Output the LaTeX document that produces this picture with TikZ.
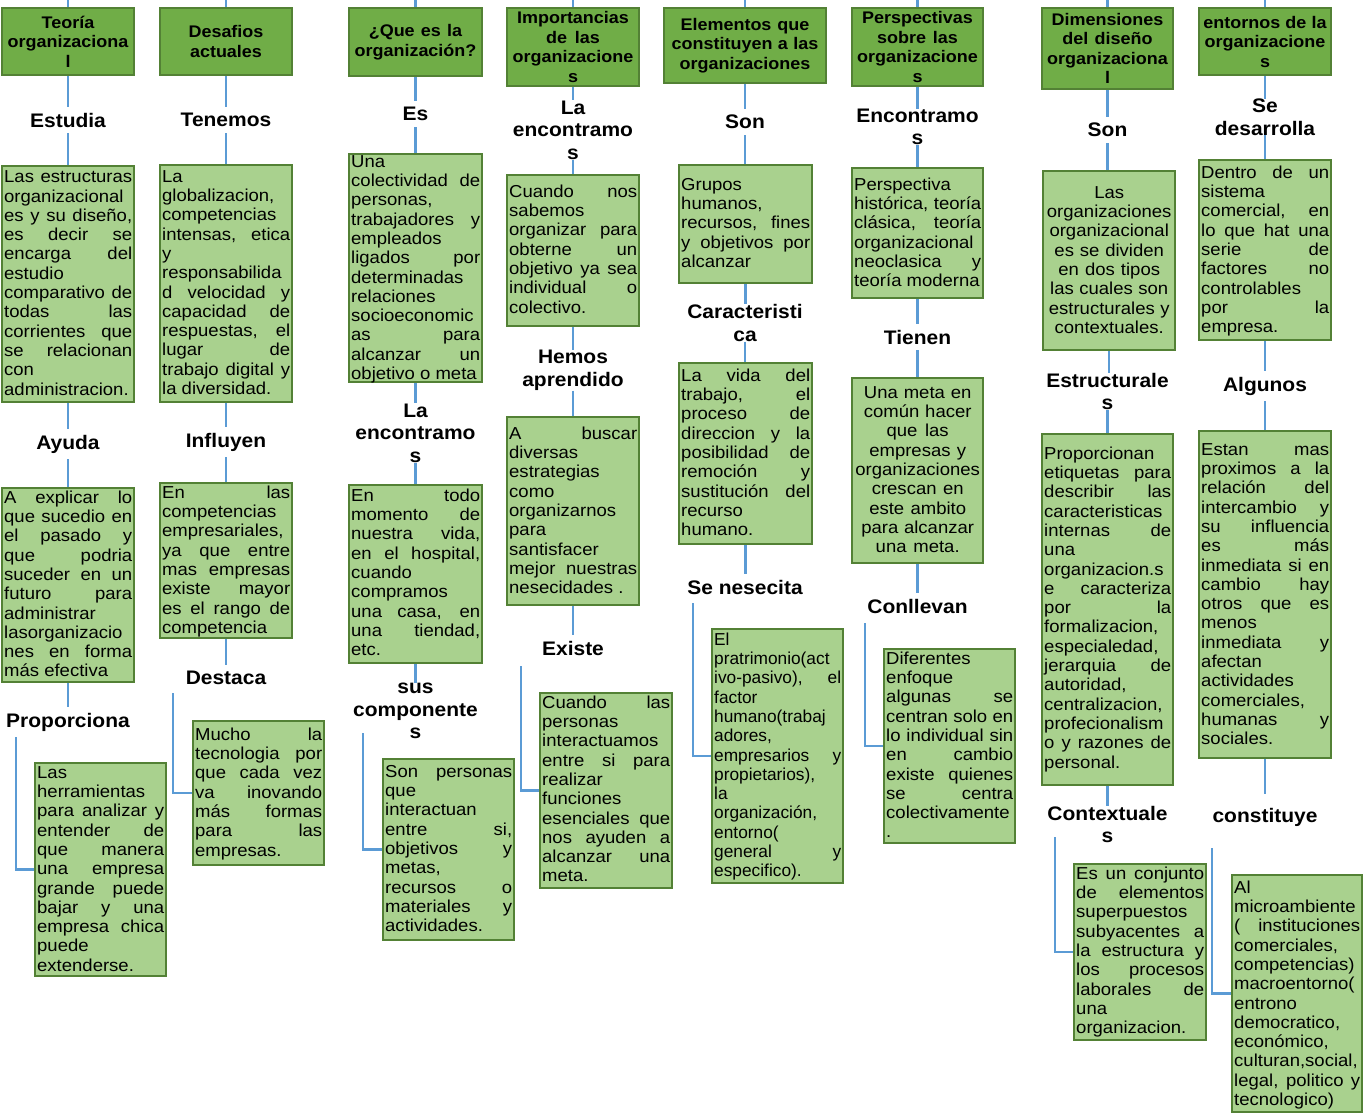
\documentclass[tikz,border=0pt]{standalone}
\usepackage{fontspec}
\setmainfont{Liberation Sans}[FakeStretch=1.07]
\newfontfamily\plainsans{Liberation Sans}
\usetikzlibrary{backgrounds}
\definecolor{tgreen}{HTML}{70AD47}
\definecolor{lgreen}{HTML}{A9D18E}
\definecolor{dgreen}{HTML}{538135}
\definecolor{lblue}{HTML}{5B9BD5}
\newcommand\jline[1]{\leavevmode\hbox to \hsize{\spaceskip=\fontdimen2\font plus 1fil\relax#1}}
\newcommand\natsp{\spaceskip=0pt\xspaceskip=0pt\relax}
\tikzset{
 titlebox/.style={draw=dgreen, fill=tgreen, line width=2.5pt, inner sep=0pt, align=center, font=\fontsize{16.8}{19.5}\selectfont\bfseries},
 bodybox/.style={draw=dgreen, fill=lgreen, line width=2.5pt, inner sep=0pt},
 bodytext/.style={inner sep=0pt, anchor=north west, align=left, font=\fontsize{17.3}{19.3}\selectfont},
 lab/.style={align=center, inner xsep=2pt, inner ysep=6pt, font=\fontsize{19.6}{22.5}\selectfont\bfseries},
 labthru/.style={align=center, inner sep=0pt, font=\fontsize{19.6}{22.5}\selectfont\bfseries},
 conn/.style={draw=lblue, line width=2.5pt},
}
\newcommand\ttl[6]{%
 \pgfmathsetmacro\bxw{#4-#2}\pgfmathsetmacro\bxh{#5-#3}%
 \pgfmathsetmacro\bxcx{(#2+#4)/2}\pgfmathsetmacro\bxcy{(#3+#5)/2}%
 \pgfmathsetmacro\bxtw{#4-#2-6}%
 \node[titlebox, minimum width=\bxw pt, minimum height=\bxh pt, text width=\bxtw pt] (#1) at (\bxcx,\bxcy) {\natsp#6};}
\newcommand\bx[8][]{%
 \pgfmathsetmacro\bxw{#5-#3}\pgfmathsetmacro\bxh{#6-#4}%
 \pgfmathsetmacro\bxcx{(#3+#5)/2}\pgfmathsetmacro\bxcy{(#4+#6)/2}%
 \pgfmathsetmacro\bxtw{#5-#3-4}\pgfmathsetmacro\bxtx{#3+2}\pgfmathsetmacro\bxty{#7-8.5}%
 \node[bodybox, minimum width=\bxw pt, minimum height=\bxh pt] (#2) at (\bxcx,\bxcy) {};
 \node[bodytext, text width=\bxtw pt, #1] (#2t) at (\bxtx,\bxty) {\natsp\strut#8};}
\newcommand\vl[2]{\draw[conn] (#1.south) -- (#1.south |- #2.north);}
\begin{document}
\begin{tikzpicture}[x=1pt,y=-1pt]
\useasboundingbox (0,0) rectangle (1363,1114);
% ---------- column 1
\coordinate (top1) at (68,0);
\ttl{t1}{2}{8}{134}{75}{Teoría\\organizaciona\\l}
\node[lab] (l1a) at (68,120) {Estudia};
\bx{b1a}{2}{166}{134}{402}{177.5}{\jline{Las estructuras}\\ organizacional\\ \jline{es y su diseño,}\\ \jline{es decir se}\\ \jline{encarga del}\\ estudio\\ \jline{comparativo de}\\ \jline{todas las}\\ \jline{corrientes que}\\ \jline{se relacionan}\\ con\\ administracion.}
\node[lab] (l1b) at (68,444) {Ayuda};
\bx{b1b}{2}{488}{134}{682}{498}{\jline{A explicar lo}\\ \jline{que sucedio en}\\ \jline{el pasado y}\\ \jline{que podria}\\ \jline{suceder en un}\\ \jline{futuro para}\\ administrar\\ lasorganizacio\\ \jline{nes en forma}\\ más efectiva}
\node[lab] (l1c) at (68,722) {Proporciona};
\coordinate (e1) at (16,737);
\bx{b1c}{35}{763}{166}{976}{773}{Las\\ herramientas\\ \jline{para analizar y}\\ \jline{entender de}\\ \jline{que manera}\\ \jline{una empresa}\\ \jline{grande puede}\\ \jline{bajar y una}\\ \jline{empresa chica}\\ puede\\ extenderse.}
% ---------- column 2
\coordinate (top2) at (226,0);
\ttl{t2}{160}{8}{292}{75}{Desafios\\actuales}
\node[lab] (l2a) at (226,120) {Tenemos};
\bx{b2a}{160}{165}{292}{402}{177}{La\\ globalizacion,\\ competencias\\ \jline{intensas, etica}\\ y\\ responsabilida\\ \jline{d velocidad y}\\ \jline{capacidad de}\\ \jline{respuestas, el}\\ \jline{lugar de}\\ \jline{trabajo digital y}\\ la diversidad.}
\node[lab] (l2b) at (226,442) {Influyen};
\bx{b2b}{160}{483}{292}{638}{493}{\jline{En las}\\ competencias\\ empresariales,\\ \jline{ya que entre}\\ \jline{mas empresas}\\ \jline{existe mayor}\\ \jline{es el rango de}\\ competencia}
\node[lab] (l2c) at (226,678) {Destaca};
\coordinate (e2) at (173,693);
\bx{b2c}{193}{721}{324}{865}{735}{\jline{Mucho la}\\ \jline{tecnologia por}\\ \jline{que cada vez}\\ \jline{va inovando}\\ \jline{más formas}\\ \jline{para las}\\ empresas.}
% ---------- column 3
\coordinate (top3) at (415.5,0);
\ttl{t3}{349}{8}{482}{76}{¿Que es la\\organización?}
\node[lab] (l3a) at (415.5,114) {Es};
\bx{b3a}{349}{154}{482}{382}{162}{Una\\ \jline{colectividad de}\\ personas,\\ \jline{trabajadores y}\\ empleados\\ \jline{ligados por}\\ determinadas\\ relaciones\\ socioeconomic\\ \jline{as para}\\ \jline{alcanzar un}\\ objetivo o meta}
\node[labthru] (l3b) at (415.5,433) {La\\encontramo\\s};
\bx{b3b}{349}{485}{482}{663}{496}{\jline{En todo}\\ \jline{momento de}\\ \jline{nuestra vida,}\\ \jline{en el hospital,}\\ cuando\\ compramos\\ \jline{una casa, en}\\ \jline{una tiendad,}\\ etc.}
\node[labthru] (l3c) at (415.5,711) {sus\\componente\\s};
\coordinate (e3) at (363,733);
\bx{b3c}{383}{759}{514}{940}{772}{\jline{Son personas}\\ que\\ interactuan\\ \jline{entre si,}\\ \jline{objetivos y}\\ metas,\\ \jline{recursos o}\\ \jline{materiales y}\\ actividades.}
% ---------- column 4
\coordinate (top4) at (573,0);
\ttl{t4}{507}{8}{639}{86}{Importancias\\de las\\organizacione\\s}
\node[labthru] (l4a) at (573,130) {La\\encontramo\\s};
\bx{b4a}{507}{175}{639}{326}{192}{\jline{Cuando nos}\\ sabemos\\ \jline{organizar para}\\ \jline{obterne un}\\ \jline{objetivo ya sea}\\ \jline{individual o}\\ colectivo.}
\node[labthru] (l4b) at (573,370.5) {Hemos\\aprendido};
\bx{b4b}{507}{417}{639}{605}{434}{\jline{A buscar}\\ diversas\\ estrategias\\ como\\ organizarnos\\ para\\ santisfacer\\ \jline{mejor nuestras}\\ nesecidades .}
\node[lab] (l4c) at (573,648) {Existe};
\coordinate (e4) at (521,666);
\bx{b4c}{540}{693}{672}{888}{703}{\jline{Cuando las}\\ personas\\ interactuamos\\ \jline{entre si para}\\ realizar\\ funciones\\ \jline{esenciales que}\\ \jline{nos ayuden a}\\ \jline{alcanzar una}\\ meta.}
% ---------- column 5
\coordinate (top5) at (745,0);
\ttl{t5}{664}{8}{826}{83}{Elementos que\\constituyen a las\\organizaciones}
\node[lab] (l5a) at (745,122) {Son};
\bx{b5a}{679}{165}{812}{283}{185}{Grupos\\ humanos,\\ \jline{recursos, fines}\\ \jline{y objetivos por}\\ alcanzar}
\node[labthru] (l5b) at (745,323) {Caracteristi\\ca};
\bx{b5b}{679}{363}{812}{544}{376}{\jline{La vida del}\\ \jline{trabajo, el}\\ \jline{proceso de}\\ \jline{direccion y la}\\ \jline{posibilidad de}\\ \jline{remoción y}\\ \jline{sustitución del}\\ recurso\\ humano.}
\node[lab] (l5c) at (745,587) {Se nesecita};
\coordinate (e5) at (693,603);
\bx[font=\fontsize{17.3}{19.3}\plainsans]{b5c}{712}{629}{843}{883}{640}{El\\ pratrimonio(act\\ \jline{ivo-pasivo), el}\\ factor\\ humano(trabaj\\ adores,\\ \jline{empresarios y}\\ propietarios),\\ la\\ organización,\\ entorno(\\ \jline{general y}\\ especifico).}
% ---------- column 6
\coordinate (top6) at (917.5,0);
\ttl{t6}{852}{8}{983}{86}{Perspectivas\\sobre las\\organizacione\\s}
\node[labthru] (l6a) at (917.5,127) {Encontramo\\s};
\bx{b6a}{852}{168}{983}{298}{185}{Perspectiva\\ \jline{histórica, teoría}\\ \jline{clásica, teoría}\\ organizacional\\ \jline{neoclasica y}\\ teoría moderna}
\node[lab] (l6b) at (917.5,337) {Tienen};
\bx[align=center]{b6b}{852}{378}{983}{563}{393}{Una meta en\\ común hacer\\ que las\\ empresas y\\ organizaciones\\ crescan en\\ este ambito\\ para alcanzar\\ una meta.}
\node[lab] (l6c) at (917.5,606) {Conllevan};
\coordinate (e6) at (865,623);
\bx{b6c}{884}{649}{1015}{843}{659}{Diferentes\\ enfoque\\ \jline{algunas se}\\ \jline{centran solo en}\\ \jline{lo individual sin}\\ \jline{en cambio}\\ \jline{existe quienes}\\ \jline{se centra}\\ colectivamente\\ .}
% ---------- column 7
\coordinate (top7) at (1107.5,0);
\ttl{t7}{1042}{8}{1173}{89}{Dimensiones\\del diseño\\organizaciona\\l}
\node[lab] (l7a) at (1107.5,130) {Son};
\bx[align=center]{b7a}{1043}{171}{1175}{350}{193}{Las\\ organizaciones\\ organizacional\\ es se dividen\\ en dos tipos\\ las cuales son\\ estructurales y\\ contextuales.}
\node[labthru] (l7b) at (1107.5,391.5) {Estructurale\\s};
\bx{b7b}{1042}{434}{1173}{785}{454}{Proporcionan\\ \jline{etiquetas para}\\ \jline{describir las}\\ caracteristicas\\ \jline{internas de}\\ una\\ organizacion.s\\ \jline{e caracteriza}\\ \jline{por la}\\ formalizacion,\\ especialedad,\\ \jline{jerarquia de}\\ autoridad,\\ centralizacion,\\ profecionalism\\ \jline{o y razones de}\\ personal.}
\node[labthru] (l7c) at (1107.5,824.5) {Contextuale\\s};
\coordinate (e7) at (1055,837);
\bx{b7c}{1074}{864}{1206}{1040}{874}{\jline{Es un conjunto}\\ \jline{de elementos}\\ superpuestos\\ \jline{subyacentes a}\\ \jline{la estructura y}\\ \jline{los procesos}\\ \jline{laborales de}\\ una\\ organizacion.}
% ---------- column 8
\coordinate (top8) at (1265,0);
\ttl{t8}{1199}{8}{1331}{75}{entornos de la\\organizacione\\s}
\node[labthru] (l8a) at (1265,117) {Se\\desarrolla};
\bx{b8a}{1199}{160}{1331}{340}{173}{\jline{Dentro de un}\\ sistema\\ \jline{comercial, en}\\ \jline{lo que hat una}\\ \jline{serie de}\\ \jline{factores no}\\ controlables\\ \jline{por la}\\ empresa.}
\node[lab] (l8b) at (1265,386) {Algunos};
\bx{b8b}{1199}{431}{1331}{758}{450}{\jline{Estan mas}\\ \jline{proximos a la}\\ \jline{relación del}\\ \jline{intercambio y}\\ \jline{su influencia}\\ \jline{es más}\\ \jline{inmediata si en}\\ \jline{cambio hay}\\ \jline{otros que es}\\ menos\\ \jline{inmediata y}\\ afectan\\ actividades\\ comerciales,\\ \jline{humanas y}\\ sociales.}
\node[lab, inner ysep=14pt] (l8c) at (1265,817) {constituye};
\coordinate (e8) at (1212,848);
\bx{b8c}{1232}{875}{1362}{1112}{888}{Al\\ microambiente\\ \jline{( instituciones}\\ comerciales,\\ competencias)\\ macroentorno(\\ entrono\\ democratico,\\ económico,\\ culturan,social,\\ \jline{legal, politico y}\\ tecnologico)}
% ---------- connectors
\begin{pgfonlayer}{background}
\fill[white] (0,0) rectangle (1363,1114);
\foreach \i in {1,...,8} {\draw[conn] (top\i) -- (top\i |- t\i.north);}
\vl{t1}{l1a}\vl{l1a}{b1a}\vl{b1a}{l1b}\vl{l1b}{b1b}\vl{b1b}{l1c}
\draw[conn] (e1) |- (b1c.west);
\vl{t2}{l2a}\vl{l2a}{b2a}\vl{b2a}{l2b}\vl{l2b}{b2b}\vl{b2b}{l2c}
\draw[conn] (e2) |- (b2c.west);
\vl{t3}{l3a}\vl{l3a}{b3a}\vl{b3a}{l3b}\vl{l3b}{b3b}\vl{b3b}{l3c}
\draw[conn] (e3) |- (b3c.west);
\vl{t4}{l4a}\vl{l4a}{b4a}\vl{b4a}{l4b}\vl{l4b}{b4b}\vl{b4b}{l4c}
\draw[conn] (e4) |- (b4c.west);
\vl{t5}{l5a}\vl{l5a}{b5a}\vl{b5a}{l5b}\vl{l5b}{b5b}\vl{b5b}{l5c}
\draw[conn] (e5) |- (b5c.west);
\vl{t6}{l6a}\vl{l6a}{b6a}\vl{b6a}{l6b}\vl{l6b}{b6b}\vl{b6b}{l6c}
\draw[conn] (e6) |- (b6c.west);
\vl{t7}{l7a}\vl{l7a}{b7a}\vl{b7a}{l7b}\vl{l7b}{b7b}\vl{b7b}{l7c}
\draw[conn] (e7) |- (b7c.west);
\vl{t8}{l8a}\vl{l8a}{b8a}\vl{b8a}{l8b}\vl{l8b}{b8b}\vl{b8b}{l8c}
\draw[conn] (e8) |- (b8c.west);
\end{pgfonlayer}
\end{tikzpicture}
\end{document}
